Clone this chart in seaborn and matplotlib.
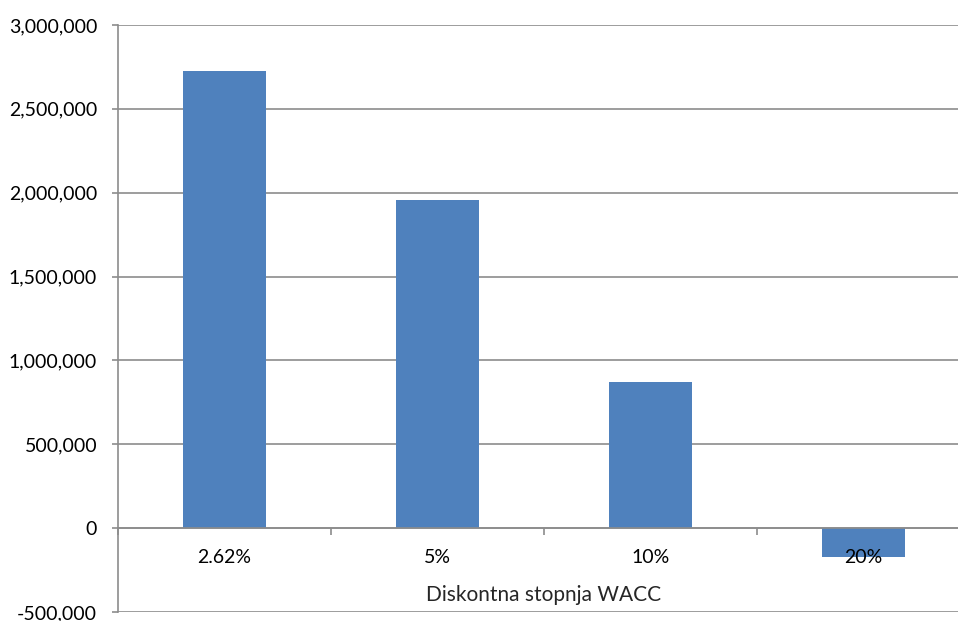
import matplotlib
matplotlib.use("Agg")
import matplotlib.pyplot as plt
import matplotlib.ticker as mticker
import seaborn as sns
import pandas as pd

stopnje = ["2.62%", "5%", "10%", "20%"]
vrednosti = [2726000, 1959000, 869000, -175000]

df = pd.DataFrame({"WACC": stopnje, "NPV": vrednosti})

sns.set_style("white")
plt.rcParams["font.family"] = ["Lato", "DejaVu Sans"]

fig = plt.figure(figsize=(9.58, 6.21), dpi=100)
ax = fig.add_axes([118 / 958, 1 - 612 / 621, 852 / 958, 587 / 621])

sns.barplot(data=df, x="WACC", y="NPV", color="#4F81BD", saturation=1,
            width=0.39, linewidth=0, ax=ax, zorder=3)

ax.set_ylim(-500000, 3000000)
ax.set_xlim(-0.5, 3.5)
ax.yaxis.set_major_locator(mticker.MultipleLocator(500000))
ax.yaxis.set_major_formatter(mticker.FuncFormatter(lambda v, p: f"{int(v):,}"))
ax.grid(axis="y", color="#8c8c8c", linewidth=1.2)
ax.set_axisbelow(True)
# category labels sit on top of the negative bar, like in Excel
ax.xaxis.set_zorder(4)

for s in ["top", "right"]:
    ax.spines[s].set_visible(False)
ax.spines["left"].set_color("#8c8c8c")
ax.spines["left"].set_linewidth(1.2)
ax.spines["bottom"].set_position(("data", 0))
ax.spines["bottom"].set_color("#8c8c8c")
ax.spines["bottom"].set_linewidth(1.2)
ax.spines["bottom"].set_zorder(4)

ax.tick_params(axis="y", length=4, width=1.2, color="#8c8c8c", pad=11,
               labelsize=14, labelcolor="black", left=True)
ax.tick_params(axis="x", which="major", length=0, pad=15, labelsize=14,
               labelcolor="black")
ax.set_xticks([-0.5, 0.5, 1.5, 2.5, 3.5], minor=True)
ax.tick_params(axis="x", which="minor", length=5, width=1.2, color="#8c8c8c",
               bottom=True, direction="out")

ax.set_xlabel("Diskontna stopnja WACC", fontsize=15, labelpad=14)
ax.set_ylabel("")

fig.savefig("out.png", dpi=100)
